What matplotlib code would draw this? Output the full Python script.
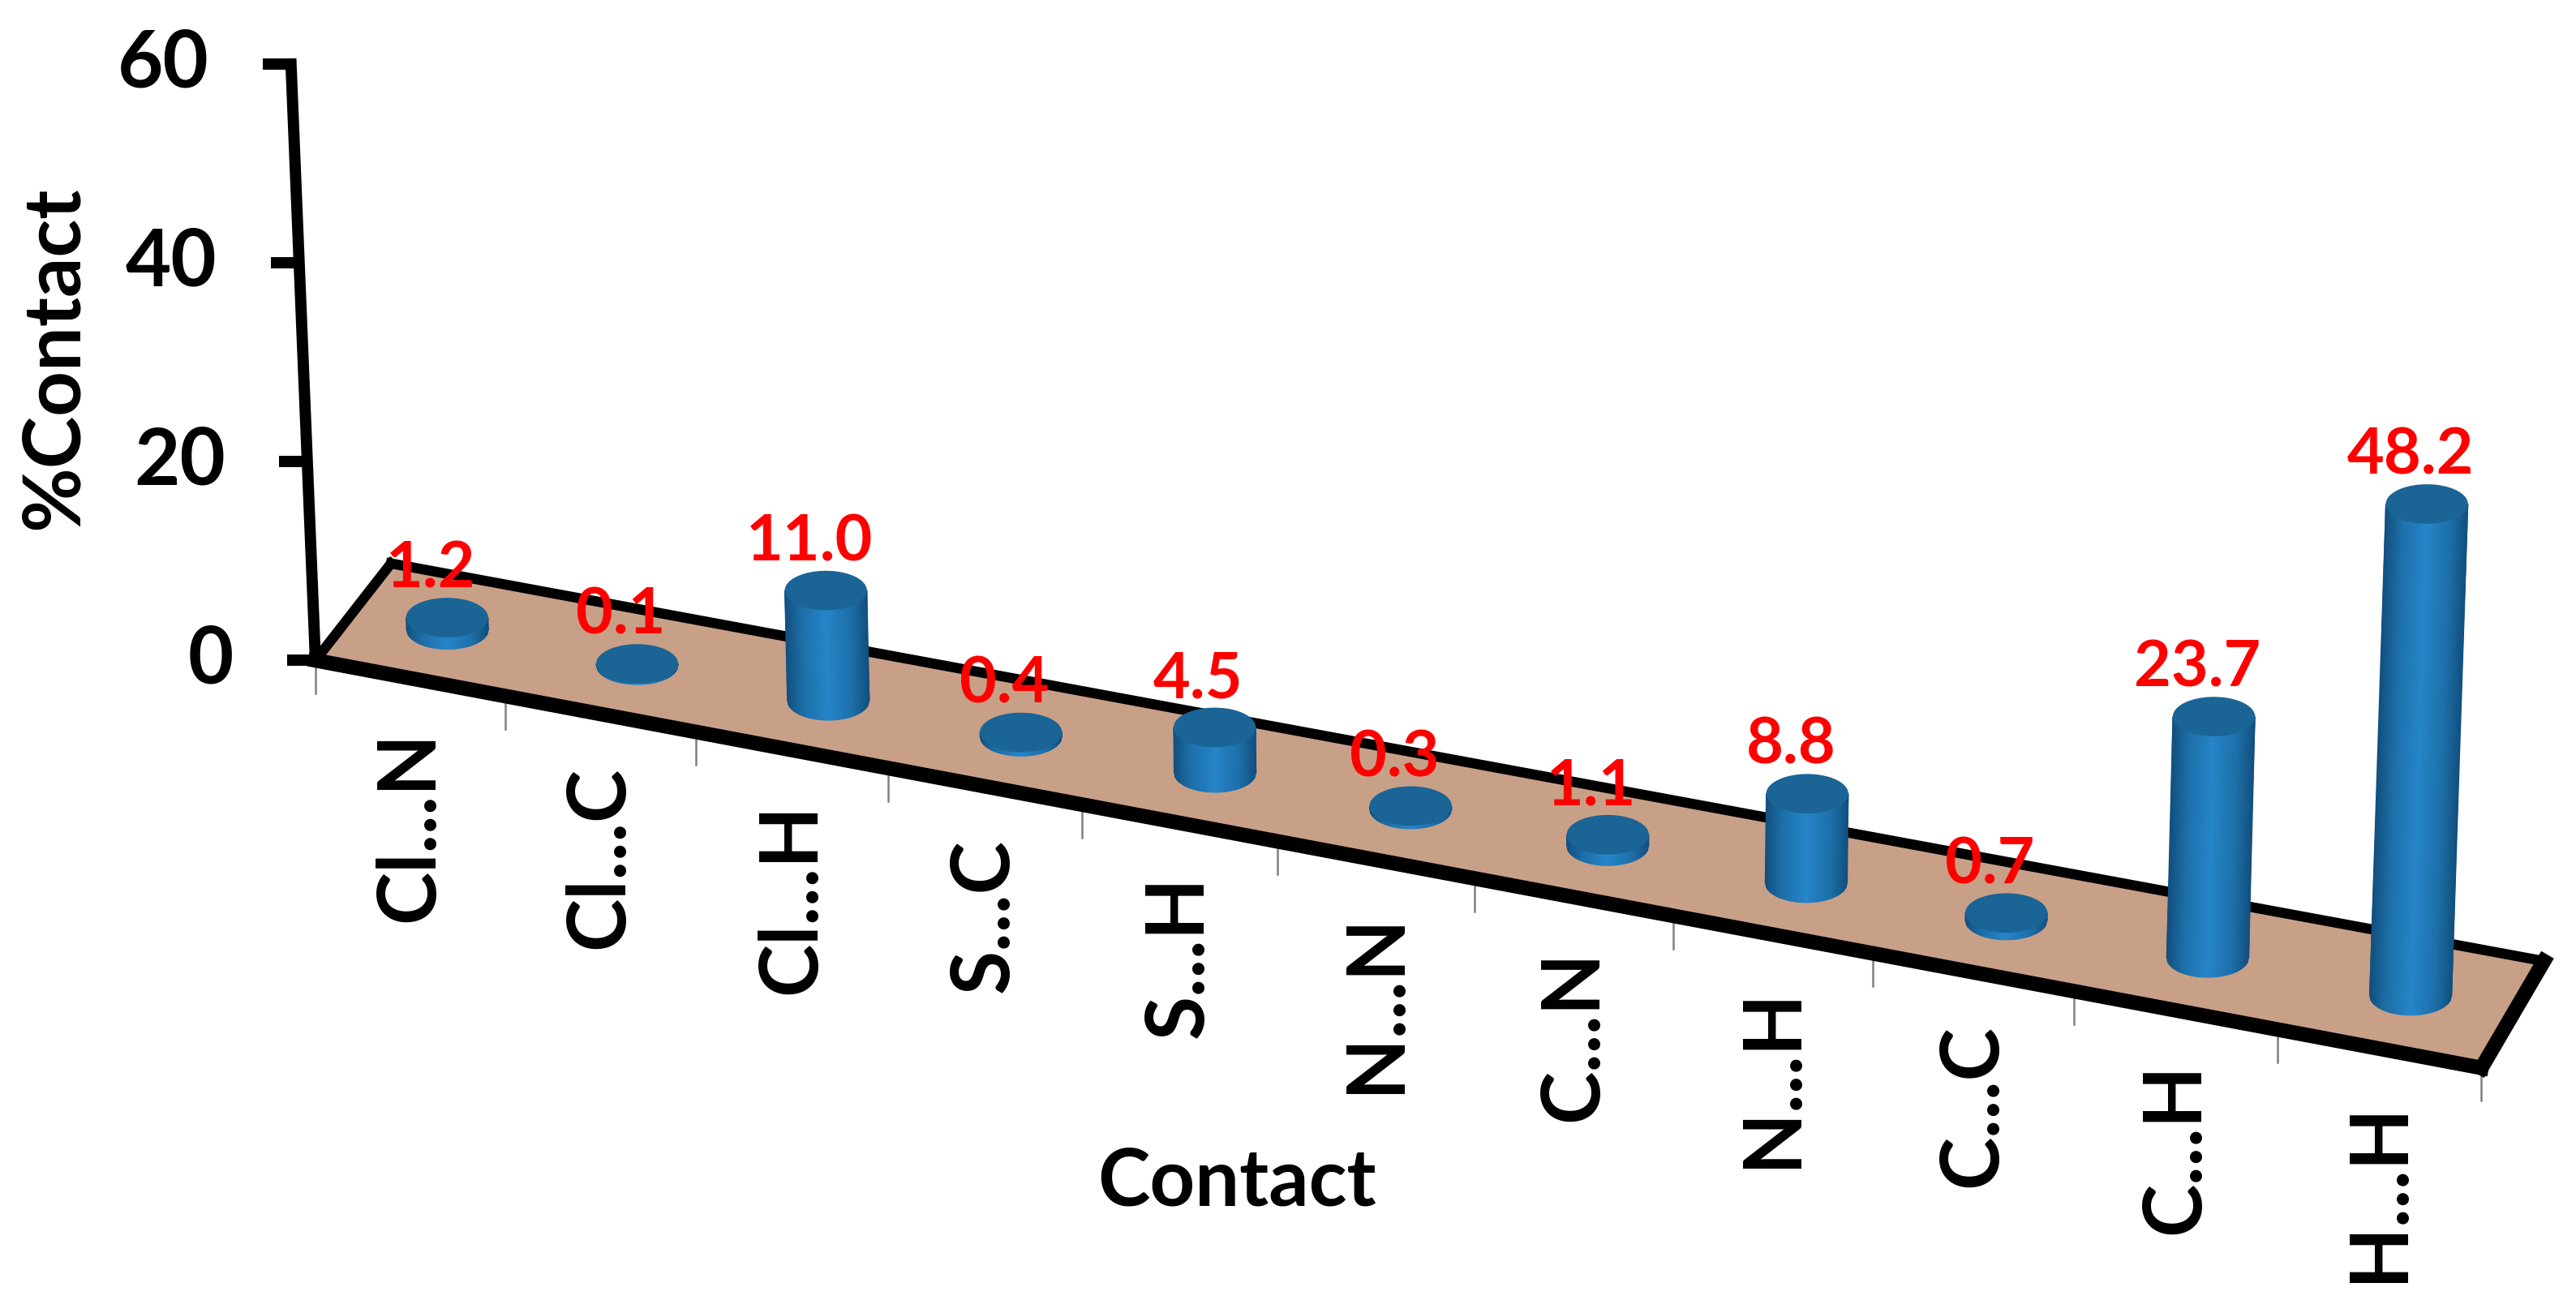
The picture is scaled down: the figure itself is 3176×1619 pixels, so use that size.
import numpy as np
import matplotlib
matplotlib.use("Agg")
import matplotlib.pyplot as plt
from matplotlib.colors import LinearSegmentedColormap

#Data
contacts = ["Cl...N", "Cl...C", "Cl...H", "S...C", "S...H", "N...N", "C...N", "N...H", "C...C", "C...H", "H...H"]
percent = [1.2, 0.1, 11.0, 0.4, 4.5, 0.3, 1.1, 8.8, 0.7, 23.7, 48.2]
percent_labels = ["1.2", "0.1", "11.0", "0.4", "4.5", "0.3", "1.1", "8.8", "0.7", "23.7", "48.2"]
y_ticks = [0, 20, 40, 60]

#Look of the chart, worked out on the 1568 wide view of the picture
W, H = 1568, 1619 * 1568 / 3176
FLOOR = "#C8A087"
TOP = "#1A6496"
body_cmap = LinearSegmentedColormap.from_list(
    "body", [(0, "#12507F"), (0.2, "#1D6FA8"), (0.5, "#2686C9"), (0.8, "#1D6FA8"), (1, "#12507F")])
FONT = "Lato"
RX, RY = 25, 12

n = len(contacts)


#Projection: u along the categories, d from front to back of the floor, v is %contact
def project(u, d, v=0):
    frac = (115 * u + 0.45 * u ** 2) / 1319
    xf = 192 + 1318 * frac
    yf = 402 + 248 * frac
    xb = 238 + 1310 * frac
    yb = 343 + 242 * frac
    x = xf + (xb - xf) * d
    y = yf + (yb - yf) * d
    h = v * (6.05 + 0.015 * u)
    return x + (x - 898) * 5.8e-5 * h, y - h


fig = plt.figure(figsize=(31.76, 16.19), dpi=100)
ax = fig.add_axes([0, 0, 1, 1])
ax.set_axis_off()

#Floor
corners = [project(0, 0), project(n, 0), project(n, 1), project(0, 1)]
ax.fill([c[0] for c in corners], [c[1] for c in corners], color=FLOOR, lw=0, zorder=1)
edges = [(0, 1, 13), (1, 2, 13), (2, 3, 9), (3, 0, 9)]
for a, b, lw in edges:
    ax.plot([corners[a][0], corners[b][0]], [corners[a][1], corners[b][1]],
            color="black", lw=lw, solid_capstyle="projecting", zorder=2)

#Value axis
ax.plot(*zip(project(0, 0, y_ticks[0]), project(0, 0, y_ticks[-1])),
        color="black", lw=10, solid_capstyle="projecting", zorder=3)
for t in y_ticks:
    x, y = project(0, 0, t)
    ax.plot([x - 17, x], [y, y], color="black", lw=10, solid_capstyle="butt", zorder=3)
    ax.text(x - 50, y, str(t), ha="right", va="center",
            family=FONT, fontweight="bold", fontsize=70, color="black")

#Category ticks and labels
for i in range(n + 1):
    x, y = project(i, 0)
    ax.plot([x, x], [y, y + 20], color="#808080", lw=1.8, zorder=1.5)
for i, name in enumerate(contacts):
    x, y = project(i + 0.5, 0)
    ax.text(x, y + 32, name, rotation=90, ha="center", va="top",
            family=FONT, fontweight="bold", fontsize=71, color="black")

#Cylinders
t = np.linspace(-1, 1, 61)
theta = np.linspace(0, 2 * np.pi, 120)
for i, val in enumerate(percent):
    bx, by = project(i + 0.5, 0.5)
    tx, ty = project(i + 0.5, 0.5, val)
    X = np.array([bx + t * RX, tx + t * RX])
    Y = np.array([by + RY * np.sqrt(1 - t ** 2), ty * np.ones_like(t)])
    C = np.array([t, t])
    ax.pcolormesh(X, Y, C, cmap=body_cmap, shading="gouraud", vmin=-1, vmax=1, zorder=4)
    ax.fill(tx + RX * np.cos(theta), ty + RY * np.sin(theta), color=TOP, lw=0, zorder=5)
    ax.text(tx - 10, ty - 29, percent_labels[i], ha="center", va="center",
            family=FONT, fontweight="bold", fontsize=57, color="#FF0000", zorder=6)

#Axis titles
ax.text(33, 218, "%Contact", rotation=90, ha="center", va="center",
        family=FONT, fontweight="bold", fontsize=70, color="black")
ax.text(753, 720, "Contact", ha="center", va="center",
        family=FONT, fontweight="bold", fontsize=70, color="black")

ax.set_xlim(0, W)
ax.set_ylim(H, 0)
fig.savefig("out.png", dpi=100, facecolor="white")
